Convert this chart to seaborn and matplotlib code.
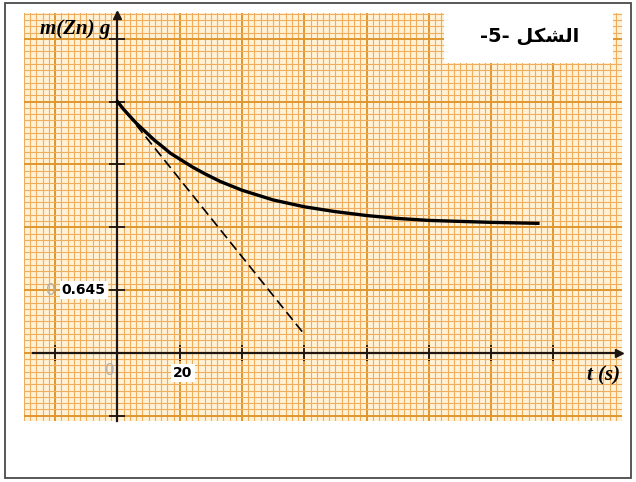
import numpy as np
import seaborn as sns
import matplotlib.pyplot as plt
from matplotlib.patches import Rectangle
from matplotlib.ticker import FixedLocator, MultipleLocator

# curve: t in s, m(Zn) in g
t_curve = [0, 2, 4, 6, 8, 10, 12, 14, 17, 20, 24, 28, 33, 40, 50, 60,
           70, 80, 90, 100, 110, 120, 135]
m_curve = [2.58, 2.50, 2.43, 2.36, 2.30, 2.24, 2.18, 2.13, 2.05, 1.99,
           1.91, 1.84, 1.76, 1.67, 1.57, 1.50, 1.45, 1.41, 1.38, 1.36,
           1.35, 1.34, 1.33]

# tangent at t = 0 (dashed)
t_tangent = [0, 60]
m_tangent = [2.58, 0.19]

x_ticks = [-20, 0, 20, 40, 60, 80, 100, 120, 140]
y_ticks = [-0.645, 0, 0.645, 1.29, 1.935, 2.58, 3.225]

# "الشكل -5-" written in shaped visual order so matplotlib draws it joined
title_txt = "-5- \uFEDE\uFEDC\uFEB8\uFEDF\uFE8D"

paper = '#fff2d6'
fine = '#efae5e'
heavy = '#e0962f'
ink = '#1e1410'

fig = plt.figure(figsize=(6.36, 4.82), dpi=100)
ax = fig.add_axes([24/636, 1-421/482, 598/636, 408/482])
ax.set_facecolor(paper)

sns.lineplot(x=t_curve, y=m_curve, ax=ax, color='black', lw=2.4, zorder=4)
sns.lineplot(x=t_tangent, y=m_tangent, ax=ax, color='black', lw=1.2,
             linestyle=(0, (6, 3)), zorder=4)

ax.set_xlim(-30, 162)
ax.set_ylim(-0.70, 3.49)

# graph paper
ax.xaxis.set_major_locator(FixedLocator(x_ticks))
ax.yaxis.set_major_locator(FixedLocator(y_ticks))
ax.xaxis.set_minor_locator(MultipleLocator(2))
ax.yaxis.set_minor_locator(MultipleLocator(0.0645))
ax.set_axisbelow(True)
ax.grid(which='minor', color=fine, lw=0.8)
ax.grid(which='major', color=heavy, lw=1.4)

# axes through the origin
for s in ['top', 'right']:
    ax.spines[s].set_visible(False)
ax.spines['left'].set_position(('data', 0))
ax.spines['bottom'].set_position(('data', 0))
ax.spines['bottom'].set_bounds(-27, 161)
for s in ['left', 'bottom']:
    ax.spines[s].set_color(ink)
    ax.spines[s].set_linewidth(1.6)
ax.tick_params(which='major', direction='inout', length=11, width=1.3,
               color=ink, labelleft=False, labelbottom=False)
ax.tick_params(which='minor', length=0)
ax.plot(161, 0, marker='>', color=ink, ms=6, clip_on=False, zorder=5)
ax.plot(0, 3.47, marker='^', color=ink, ms=6, clip_on=False, zorder=5)

# labels
ax.text(-13.5, 3.33, 'm(Zn) g', family='Liberation Serif', weight='bold',
        style='italic', fontsize=15, ha='center', va='center', zorder=5)
ax.text(161.5, -0.235, 't (s)', family='Liberation Serif', weight='bold',
        style='italic', fontsize=15, ha='right', va='center', zorder=5)
ax.text(-3.8, 0.645, '0.645', weight='bold', fontsize=10, ha='right',
        va='center', zorder=5,
        bbox=dict(fc='white', ec='none', pad=1.5))
ax.text(-21.5, 0.645, '0', color='#b0b0b0', fontsize=11, ha='center',
        va='center', zorder=6)
ax.text(-2.4, -0.18, '0', color='#b0b0b0', fontsize=11, ha='center',
        va='center', zorder=5)
ax.text(21, -0.205, '20', weight='bold', fontsize=10, ha='center',
        va='center', zorder=5,
        bbox=dict(fc='white', ec='none', pad=1.5))

# title box
ax.add_patch(Rectangle((105, 2.975), 54.2, 0.6, fc='white', ec='none',
                       zorder=3, clip_on=False))
ax.text(132.5, 3.25, title_txt, family='DejaVu Sans', weight='bold',
        fontsize=14, ha='center', va='center', zorder=5)

# outer frame
fig.patches.append(Rectangle((5/636, 4/482), 626/636, 475/482,
                             transform=fig.transFigure, fill=False,
                             ec='#4a4a4a', lw=1.3))

plt.savefig('out.png', dpi=100)
